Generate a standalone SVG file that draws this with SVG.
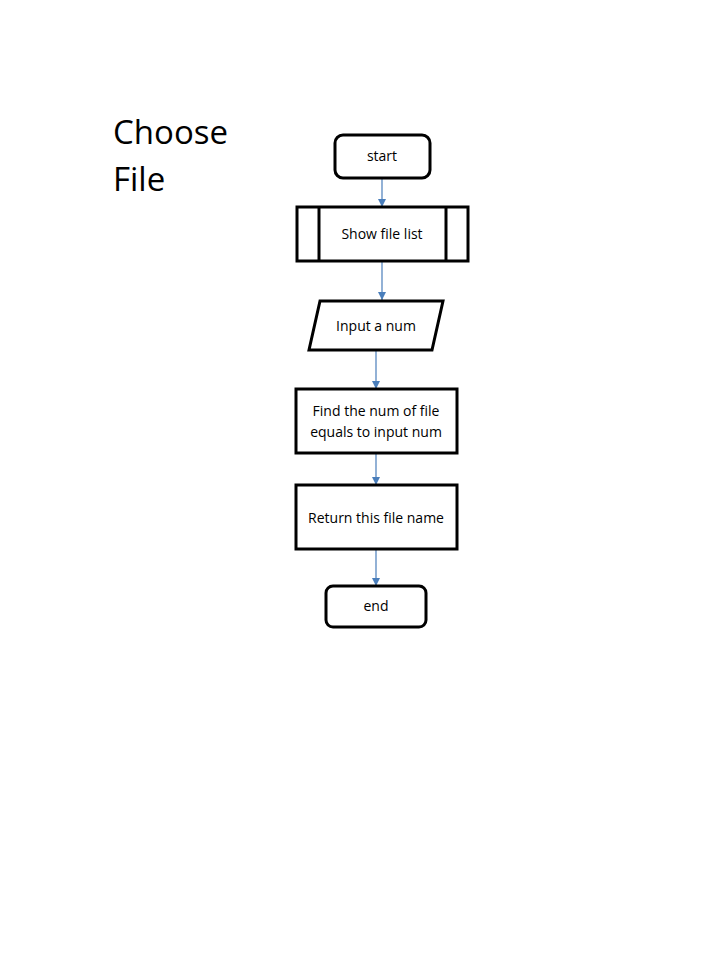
<svg xmlns="http://www.w3.org/2000/svg" width="720" height="960" viewBox="0 0 720 960">
<style>
.n{fill:#fff;stroke:#000;stroke-width:3}
.t{font-family:"Open Sans","Liberation Sans",sans-serif;font-size:14px;fill:#000;text-anchor:middle}
.c{stroke:#4a7ebb;stroke-width:1.2;fill:none;marker-end:url(#a)}
</style>
<defs>
<marker id="a" viewBox="0 0 10 10" refX="10" refY="5" markerWidth="8" markerHeight="8" markerUnits="userSpaceOnUse" orient="auto">
<path d="M0,0L10,5L0,10z" fill="#4a7ebb"/>
</marker>
</defs>
<rect width="720" height="960" fill="#fff"/>
<text x="113" y="144" font-family="Open Sans, Liberation Sans, sans-serif" font-size="33" fill="#000">Choose</text>
<text x="113" y="191" font-family="Open Sans, Liberation Sans, sans-serif" font-size="33" fill="#000">File</text>
<g id="connectors">
<line class="c" x1="382" y1="178" x2="382" y2="207"/>
<line class="c" x1="382" y1="261" x2="382" y2="300"/>
<line class="c" x1="376" y1="350" x2="376" y2="389"/>
<line class="c" x1="376" y1="453" x2="376" y2="485"/>
<line class="c" x1="376" y1="549" x2="376" y2="586"/>
</g>
<g id="start">
<rect class="n" x="335" y="135" width="95" height="43" rx="8"/>
<text class="t" x="382" y="161">start</text>
</g>
<g id="show">
<rect class="n" x="297" y="207" width="171" height="54"/>
<line x1="319" y1="207" x2="319" y2="261" stroke="#000" stroke-width="3"/>
<line x1="446" y1="207" x2="446" y2="261" stroke="#000" stroke-width="3"/>
<text class="t" x="382" y="239">Show file list</text>
</g>
<g id="input">
<polygon class="n" points="320,301 443,301 432,350 309,350"/>
<text class="t" x="376" y="331">Input a num</text>
</g>
<g id="find">
<rect class="n" x="296" y="389" width="161" height="64"/>
<text class="t" x="376" y="416">Find the num of file</text>
<text class="t" x="376" y="437">equals to input num</text>
</g>
<g id="return">
<rect class="n" x="296" y="485" width="161" height="64"/>
<text class="t" x="376" y="523">Return this file name</text>
</g>
<g id="end">
<rect class="n" x="326" y="586" width="100" height="41" rx="7"/>
<text class="t" x="376" y="611">end</text>
</g>
</svg>
